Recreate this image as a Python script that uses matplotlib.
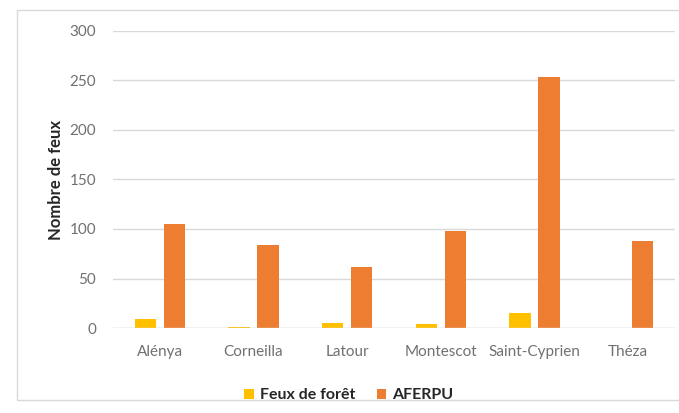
import numpy as np
import matplotlib.pyplot as plt
from matplotlib.patches import Rectangle

plt.rcParams['font.family'] = ['Lato', 'DejaVu Sans']

communes = ['Alénya', 'Corneilla', 'Latour', 'Montescot', 'Saint-Cyprien', 'Théza']
feux_foret = [9, 1, 5, 4, 15, 0]
aferpu = [105, 84, 62, 98, 254, 88]

yellow = '#FFC000'
orange = '#ED7D31'

fig = plt.figure(figsize=(6.79, 4.13), dpi=100)
W, H = 679, 413

# outer chart frame
fig.patches.append(Rectangle((17 / W, 1 - 400 / H), 1.0, (400 - 10) / H,
                             transform=fig.transFigure, fill=False,
                             edgecolor='#D9D9D9', lw=1.0))

ax = fig.add_axes([113 / W, 1 - 328 / H, (675 - 113) / W, (328 - 31) / H])

x = np.arange(len(communes))
bw = 0.23
ax.bar(x - 0.155, feux_foret, bw, color=yellow, label='Feux de forêt', zorder=3)
ax.bar(x + 0.155, aferpu, bw, color=orange, label='AFERPU', zorder=3)

ax.set_xlim(-0.5, len(communes) - 0.5)
ax.set_ylim(0, 300)
ax.set_yticks(range(0, 301, 50))
ax.set_xticks(x)
ax.set_xticklabels(communes)
ax.grid(axis='y', color='#D9D9D9', lw=1.0, zorder=0)
ax.tick_params(axis='both', length=0, labelsize=11, colors='#707070')
ax.tick_params(axis='x', pad=12)
ax.tick_params(axis='y', pad=12)
for s in ax.spines.values():
    s.set_visible(False)
ax.axhline(0, color='#D9D9D9', lw=1.0, zorder=4)

ax.set_ylabel('Nombre de feux', fontsize=12, fontweight='bold', color='#262626', labelpad=4)

leg = ax.legend(loc='upper center', bbox_to_anchor=(0.42, -0.155), ncol=2, frameon=False,
                prop={'size': 11.5, 'weight': 'bold'}, handlelength=0.6, handleheight=0.6,
                columnspacing=1.3, handletextpad=0.4)
for t in leg.get_texts():
    t.set_color('#262626')

fig.savefig('out.png', dpi=100)
